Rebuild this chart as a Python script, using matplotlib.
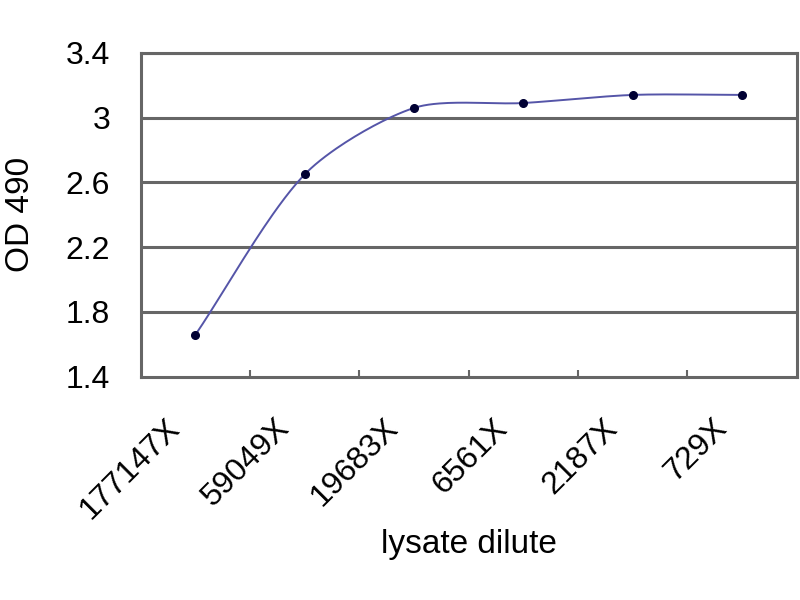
import numpy as np
import matplotlib
matplotlib.use("Agg")
import matplotlib.pyplot as plt
import matplotlib.transforms as mtransforms

categories = ["177147X", "59049X", "19683X", "6561X", "2187X", "729X"]
od_values = [1.66, 2.65, 3.06, 3.09, 3.14, 3.14]
y_ticks = [1.4, 1.8, 2.2, 2.6, 3.0, 3.4]
y_tick_labels = ["1.4", "1.8", "2.2", "2.6", "3", "3.4"]

plt.rcParams['font.family'] = ['Liberation Sans', 'DejaVu Sans']

fig = plt.figure(figsize=(8, 6), dpi=100)
ax = fig.add_axes([0.176, 0.372, 0.82, 0.54])

x = np.arange(len(categories)).astype(float)
y = np.array(od_values)

# spreadsheet-style smoothed line: Bezier with chord-length-scaled tangents
def smooth(xp, yp, yscale=1.49, n=40):
    P = np.column_stack([xp, yp * yscale])
    N = len(P)
    cout, cin = [], []
    for i in range(N):
        prev = P[i-1] if i > 0 else P[i]
        nxt = P[i+1] if i < N-1 else P[i]
        T = nxt - prev
        d1 = np.linalg.norm(P[i] - prev)
        d2 = np.linalg.norm(nxt - P[i])
        s = d1 + d2
        cout.append(P[i] + T * (d2 / s) / 3.6 if s else P[i])
        cin.append(P[i] - T * (d1 / s) / 3.6 if s else P[i])
    pts = []
    t = np.linspace(0, 1, n)[:, None]
    for i in range(N-1):
        b = ((1-t)**3 * P[i] + 3*(1-t)**2*t * cout[i]
             + 3*(1-t)*t**2 * cin[i+1] + t**3 * P[i+1])
        pts.append(b)
    pts = np.vstack(pts)
    return pts[:, 0], pts[:, 1] / yscale

sx, sy = smooth(x, y)
ax.plot(sx, sy, color='#5555a8', lw=1.4, zorder=3)
ax.plot(x, y, 'o', color='#000033', ms=5.5, zorder=4)

ax.set_xlim(-0.5, len(categories)-0.5)
ax.set_ylim(1.4, 3.4)
ax.set_yticks(y_ticks)
ax.set_yticklabels(y_tick_labels, fontsize=23)
for yt in y_ticks[1:]:
    ax.axhline(yt, color='#666666', lw=2.2, zorder=1)

ax.set_xticks(x)
ax.set_xticklabels([])
label_trans = ax.get_xaxis_transform() + mtransforms.ScaledTranslation(
    -20/100, -47/100, fig.dpi_scale_trans)
for xi, cat in zip(x, categories):
    ax.text(xi, 0, cat, transform=label_trans, fontsize=23, rotation=45,
            ha='right', va='center', rotation_mode='anchor', clip_on=False)
ax.set_xticks(np.arange(0.5, len(categories)-1, 1), minor=True)
ax.tick_params(axis='x', which='major', length=0)
ax.tick_params(axis='x', which='minor', direction='in', length=5, width=1.5, color='#666666')
ax.tick_params(axis='y', length=0, pad=22)

for s in ax.spines.values():
    s.set_color('#666666')
    s.set_linewidth(2.2)

ax.set_xlabel("lysate dilute", fontsize=24)
ax.xaxis.set_label_coords(0.5, -0.47)
ax.set_ylabel("OD 490", fontsize=24)
ax.yaxis.set_label_coords(-0.16, 0.5)

fig.savefig("out.png", dpi=100)
